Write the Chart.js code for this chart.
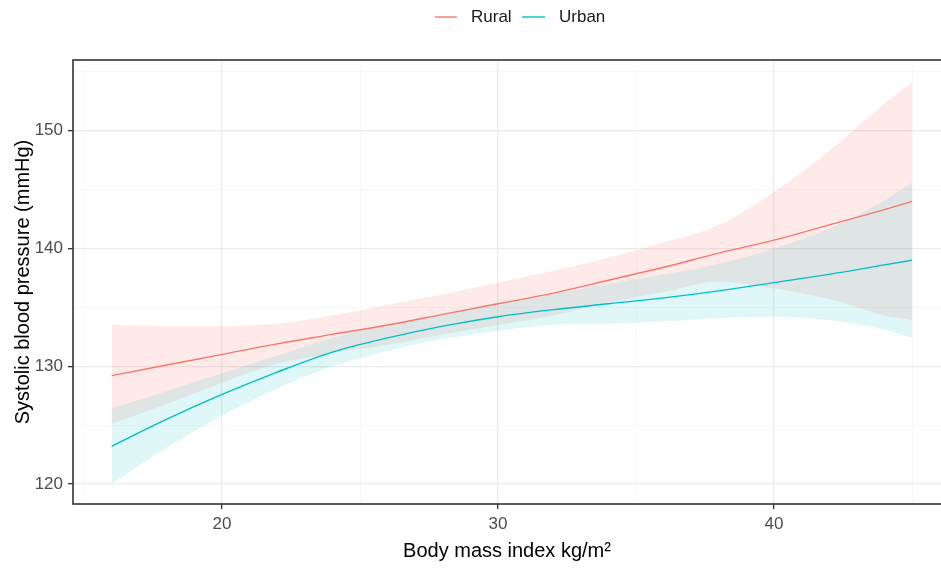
<!DOCTYPE html>
<html>
<head>
<meta charset="utf-8">
<script src="https://cdn.jsdelivr.net/npm/chart.js@4.4.1/dist/chart.umd.min.js"></script>
<style>
  html, body { margin: 0; padding: 0; background: #fff; overflow: hidden; }
  #bpChart { display: block; }
</style>
</head>
<body>
<canvas id="bpChart" width="941" height="572"></canvas>
<script>
// BMI positions along the fitted curves
const bmi = [16, 18, 20, 22, 24, 26, 28, 30, 32, 34, 36, 38, 40, 42, 44, 45];

// Rural: fitted line and confidence band
const ruralFit   = [129.2, 130.1, 131.0, 131.9, 132.7, 133.5, 134.4, 135.3, 136.2, 137.3, 138.4, 139.6, 140.7, 142.0, 143.3, 144.0];
const ruralUpper = [133.5, 133.4, 133.4, 133.6, 134.3, 135.2, 136.1, 137.1, 138.1, 139.2, 140.5, 142.0, 144.8, 148.3, 152.3, 154.1];
const ruralLower = [125.1, 126.8, 128.6, 130.2, 131.1, 131.8, 132.7, 133.5, 134.3, 135.4, 136.3, 137.2, 136.6, 135.7, 134.3, 133.9];

// Urban: fitted line and confidence band
const urbanFit   = [123.2, 125.5, 127.6, 129.5, 131.2, 132.4, 133.4, 134.2, 134.8, 135.3, 135.8, 136.4, 137.1, 137.8, 138.6, 139.0];
const urbanUpper = [126.4, 127.9, 129.4, 130.9, 132.4, 133.5, 134.5, 135.4, 136.1, 137.0, 137.8, 138.7, 140.0, 141.7, 144.1, 145.6];
const urbanLower = [120.0, 123.1, 125.8, 128.1, 130.0, 131.3, 132.3, 133.0, 133.5, 133.6, 133.8, 134.1, 134.2, 133.9, 133.1, 132.4];

// axis ticks (majors get labels, minors only a grid line)
const xTicks = [15, 20, 25, 30, 35, 40, 45];
const xLabels = [20, 30, 40];
const yTicks = [120, 125, 130, 135, 140, 145, 150, 155];
const yLabels = [120, 130, 140, 150];

const RED = '#F8766D';
const TEAL = '#00BFC4';
const FONT = "'Liberation Sans', Arial, sans-serif";

function points(ys) {
    return bmi.map((x, i) => ({ x: x, y: ys[i] }));
}

function curve(label, ys, color) {
    return {
        label: label,
        data: points(ys),
        borderColor: color,
        borderWidth: 1.4,
        pointRadius: 0,
        fill: false,
        cubicInterpolationMode: 'monotone'
    };
}

function band(ys, fill, target) {
    return {
        label: '',
        data: points(ys),
        borderWidth: 0,
        borderColor: 'rgba(0,0,0,0)',
        backgroundColor: fill,
        pointRadius: 0,
        fill: target,
        cubicInterpolationMode: 'monotone'
    };
}

const gridColor = ctx => {
    const v = ctx.tick ? ctx.tick.value : null;
    return v !== null && v % 10 === 0 ? '#EBEBEB' : '#F3F3F3';
};
const gridWidth = ctx => {
    const v = ctx.tick ? ctx.tick.value : null;
    return v !== null && v % 10 === 0 ? 1.3 : 0.7;
};
const tickColor = ctx => {
    const v = ctx.tick ? ctx.tick.value : null;
    return v !== null && v % 10 === 0 ? '#333333' : 'rgba(0,0,0,0)';
};

const whiteBackground = {
    id: 'whiteBackground',
    beforeDraw(chart) {
        const c = chart.ctx;
        c.save();
        c.fillStyle = '#ffffff';
        c.fillRect(0, 0, chart.width, chart.height);
        c.restore();
    }
};

const panelBorder = {
    id: 'panelBorder',
    afterDatasetsDraw(chart) {
        const a = chart.chartArea;
        const c = chart.ctx;
        c.save();
        c.strokeStyle = '#333333';
        c.lineWidth = 1.6;
        c.strokeRect(a.left, a.top, a.right - a.left + 2, a.bottom - a.top);
        c.restore();
    }
};

// ggplot-style legend above the panel
const topLegend = {
    id: 'topLegend',
    afterDraw(chart) {
        const c = chart.ctx;
        const items = [
            { text: 'Rural', color: RED, x0: 435, x1: 457, tx: 471 },
            { text: 'Urban', color: TEAL, x0: 522, x1: 545, tx: 559 }
        ];
        const y = 17;
        c.save();
        c.font = '17px ' + FONT;
        c.textBaseline = 'middle';
        c.textAlign = 'left';
        for (const it of items) {
            c.strokeStyle = it.color;
            c.lineWidth = 1.4;
            c.beginPath();
            c.moveTo(it.x0, y);
            c.lineTo(it.x1, y);
            c.stroke();
            c.fillStyle = '#1a1a1a';
            c.fillText(it.text, it.tx, y);
        }
        c.restore();
    }
};

document.addEventListener('DOMContentLoaded', function () {
    const ctx = document.getElementById('bpChart').getContext('2d');

    new Chart(ctx, {
        type: 'line',
        data: {
            datasets: [
                curve('Rural', ruralFit, RED),
                curve('Urban', urbanFit, TEAL),
                band(urbanUpper, 'rgba(0,191,196,0.12)', '+1'),
                band(urbanLower, 'rgba(0,0,0,0)', false),
                band(ruralUpper, 'rgba(248,118,109,0.15)', '+1'),
                band(ruralLower, 'rgba(0,0,0,0)', false)
            ]
        },
        options: {
            responsive: false,
            animation: false,
            layout: {
                padding: { left: 7, top: 60, right: 0, bottom: 5 }
            },
            plugins: {
                legend: { display: false },
                tooltip: { enabled: false }
            },
            scales: {
                x: {
                    type: 'linear',
                    min: 14.6,
                    max: 46.05,
                    afterBuildTicks: scale => {
                        scale.ticks = xTicks.map(v => ({ value: v }));
                    },
                    afterFit: scale => {
                        scale.height = 63;
                    },
                    ticks: {
                        autoSkip: false,
                        maxRotation: 0,
                        padding: 5,
                        color: '#4D4D4D',
                        font: { family: FONT, size: 17 },
                        callback: v => xLabels.includes(v) ? String(v) : ''
                    },
                    grid: {
                        color: gridColor,
                        lineWidth: gridWidth,
                        tickColor: tickColor,
                        tickLength: 5,
                        tickWidth: 1.3
                    },
                    border: { display: false },
                    title: {
                        display: true,
                        text: 'Body mass index kg/m²',
                        color: '#000000',
                        font: { family: FONT, size: 20 },
                        padding: { top: 4, bottom: 4 }
                    }
                },
                y: {
                    type: 'linear',
                    min: 118.3,
                    max: 156.0,
                    afterBuildTicks: scale => {
                        scale.ticks = yTicks.map(v => ({ value: v }));
                    },
                    afterFit: scale => {
                        scale.width = 66;
                    },
                    ticks: {
                        autoSkip: false,
                        padding: 5,
                        color: '#4D4D4D',
                        font: { family: FONT, size: 17 },
                        callback: v => yLabels.includes(v) ? String(v) : ''
                    },
                    grid: {
                        color: gridColor,
                        lineWidth: gridWidth,
                        tickColor: tickColor,
                        tickLength: 5,
                        tickWidth: 1.3
                    },
                    border: { display: false },
                    title: {
                        display: true,
                        text: 'Systolic blood pressure (mmHg)',
                        color: '#000000',
                        font: { family: FONT, size: 20 },
                        padding: { top: 4, bottom: 4 }
                    }
                }
            }
        },
        plugins: [whiteBackground, panelBorder, topLegend]
    });
});
</script>
</body>
</html>
